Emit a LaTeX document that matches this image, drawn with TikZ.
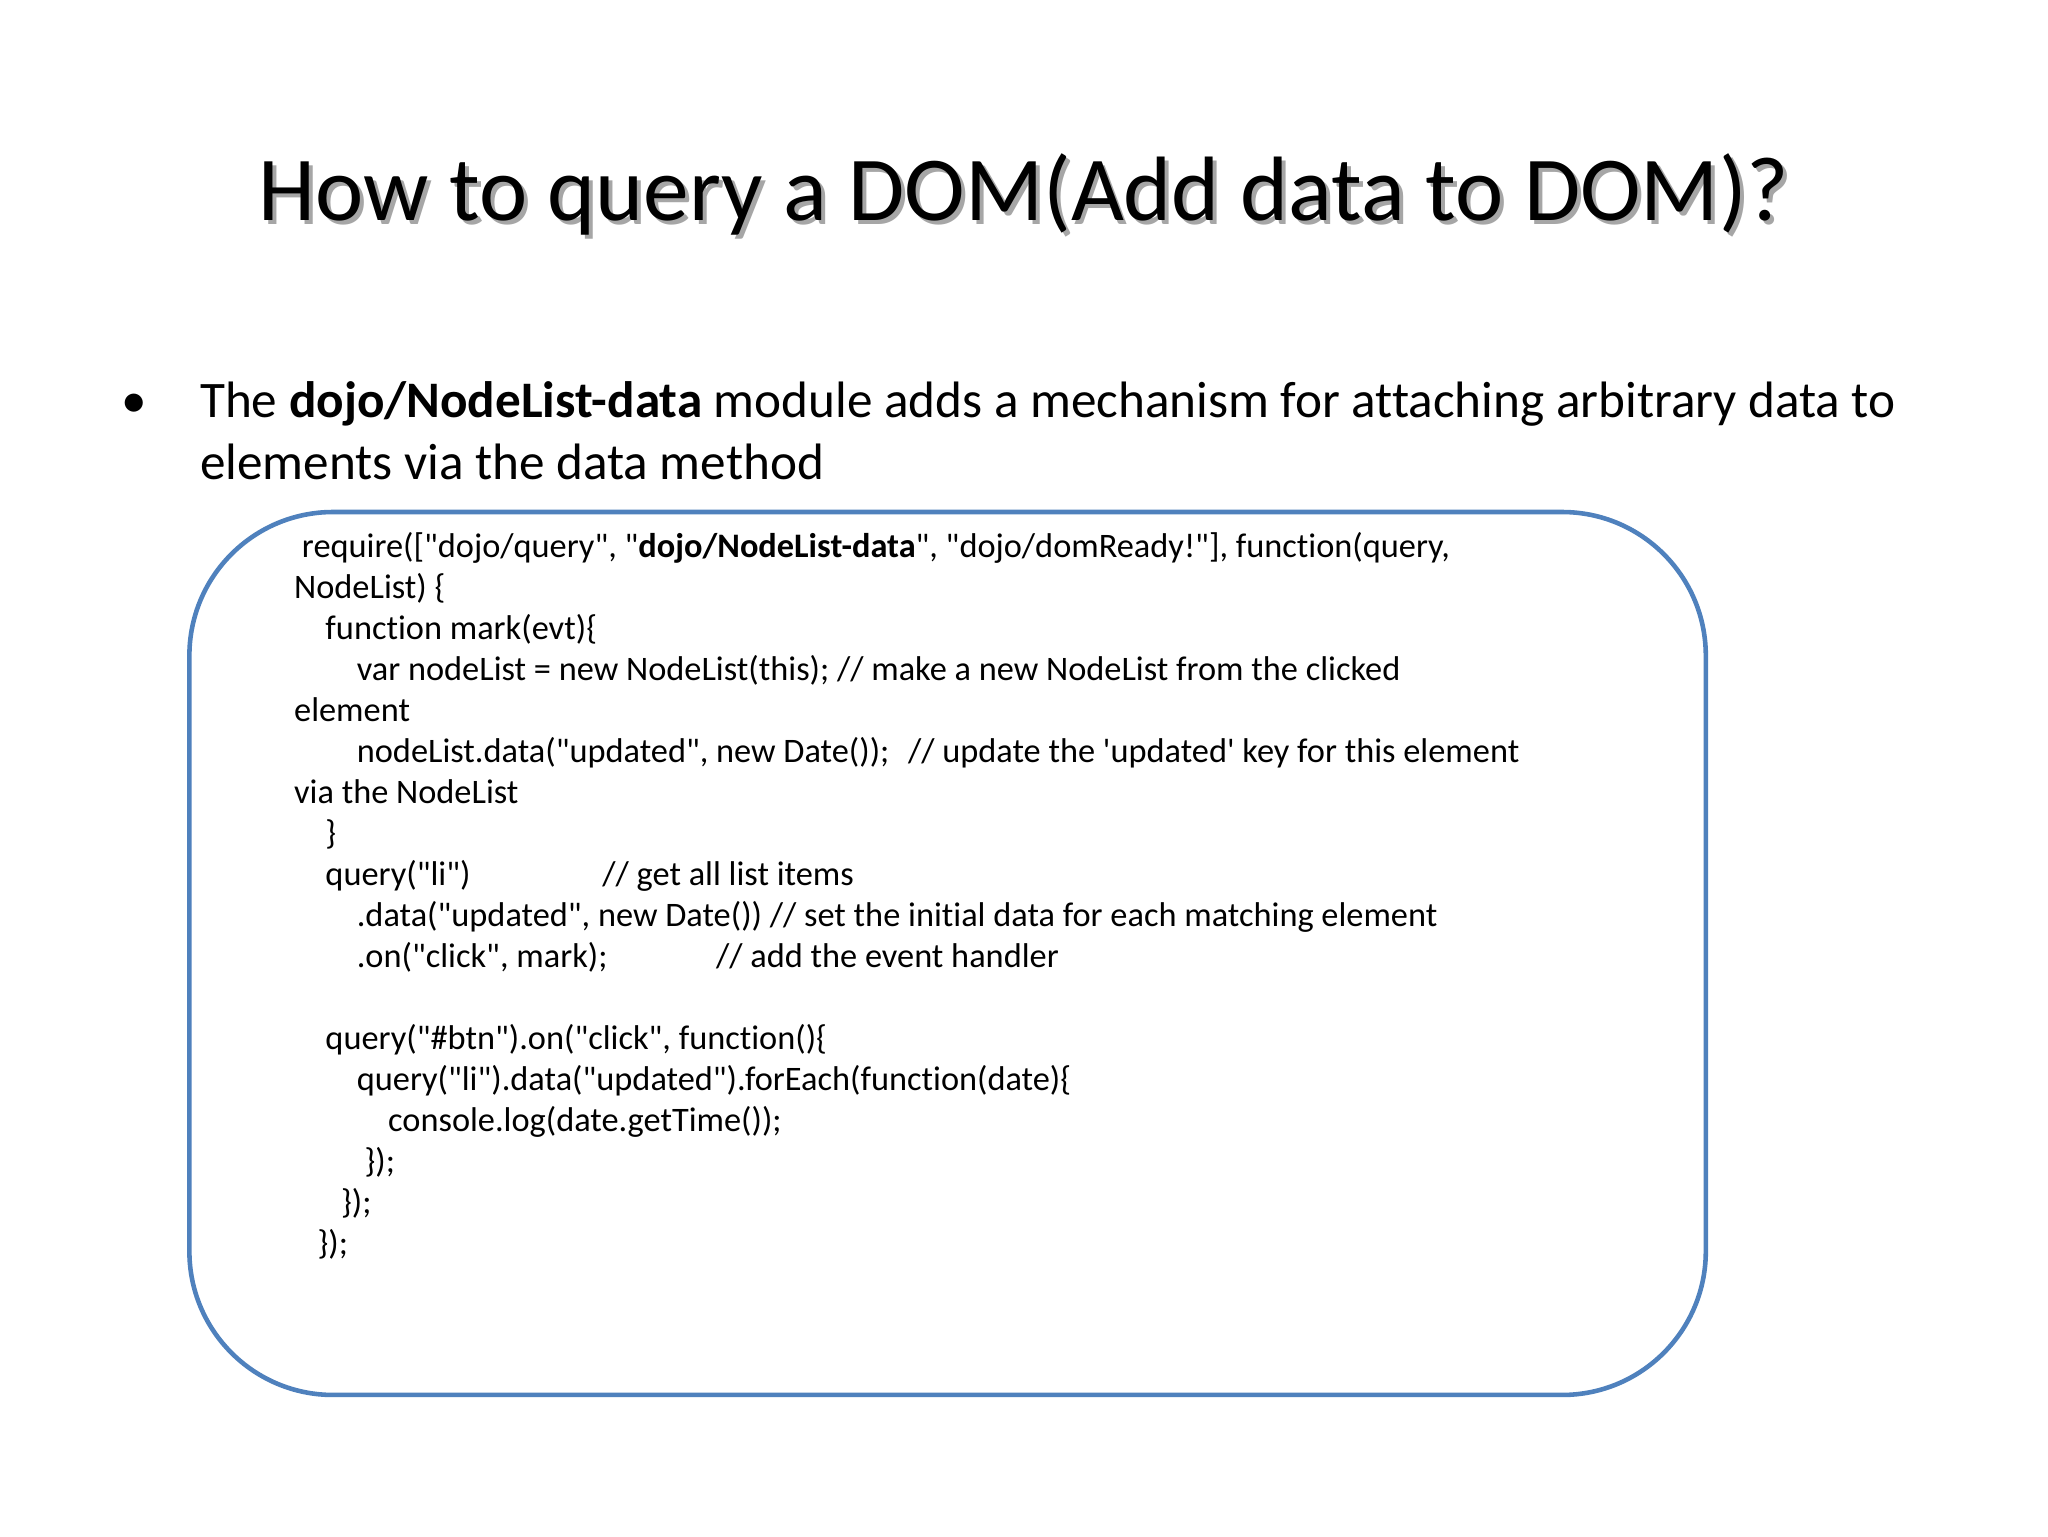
\documentclass[tikz,border=0pt]{standalone}
\usepackage{fontspec}
\setmainfont{Carlito}[Ligatures={TeXOff,NoCommon}]
\begin{document}
\begin{tikzpicture}[x=1pt,y=-1pt,
  code/.style={anchor=base west,inner sep=0pt,font=\fontsize{26.3}{30}\selectfont},
  body/.style={anchor=base west,inner sep=0pt,font=\fontsize{39.2}{45}\selectfont}]
\useasboundingbox[fill=white] (0,0) rectangle (1568,1176);
\definecolor{frame}{RGB}{79,129,189}
% title
\node[anchor=base,inner sep=0pt,font=\fontsize{70}{78}\selectfont,text=black!35] (tshadow) at (787,172) {How to query a DOM(Add data to DOM)?};
\node[anchor=base,inner sep=0pt,font=\fontsize{70}{78}\selectfont] (title) at (784,169) {How to query a DOM(Add data to DOM)?};
% bullet
\node[body] (bul) at (93,320) {•};
\node[body] (b1) at (153,320) {The \textbf{dojo/NodeList-data} module adds a mechanism for attaching arbitrary data to};
\node[body] (b2) at (153,367) {elements via the data method};
% frame
\draw[frame,line width=3.5pt,rounded corners=110pt] (145,392) rectangle (1306,1068);
% code
\def\L#1{427+31.4*#1}
\node[code] (c0) at (231,{\L0}) {require(["dojo/query", "\textbf{dojo/NodeList-data}", "dojo/domReady!"], function(query,};
\node[code] (c1) at (225,{\L1}) {NodeList) \{};
\node[code] (c2) at (249,{\L2}) {function mark(evt)\{};
\node[code] (c3) at (273,{\L3}) {var nodeList = new NodeList(this); // make a new NodeList from the clicked};
\node[code] (c4) at (225,{\L4}) {element};
\node[code] (c5) at (273,{\L5}) {nodeList.data("updated", new Date());};
\node[code] (c5b) at (695,{\L5}) {// update the 'updated' key for this element};
\node[code] (c6) at (225,{\L6}) {via the NodeList};
\node[code] (c7) at (249,{\L7}) {\}};
\node[code] (c8) at (249,{\L8}) {query("li")};
\node[code] (c8b) at (461,{\L8}) {// get all list items};
\node[code] (c9) at (273,{\L9}) {.data("updated", new Date()) // set the initial data for each matching element};
\node[code] (c10) at (273,{\L{10}}) {.on("click", mark);};
\node[code] (c10b) at (548,{\L{10}}) {// add the event handler};
\node[code] (c12) at (249,{\L{12}}) {query("\#btn").on("click", function()\{};
\node[code] (c13) at (273,{\L{13}}) {query("li").data("updated").forEach(function(date)\{};
\node[code] (c14) at (297,{\L{14}}) {console.log(date.getTime());};
\node[code] (c15) at (279,{\L{15}}) {\});};
\node[code] (c16) at (261,{\L{16}}) {\});};
\node[code] (c17) at (243,{\L{17}}) {\});};
\end{tikzpicture}
\end{document}
